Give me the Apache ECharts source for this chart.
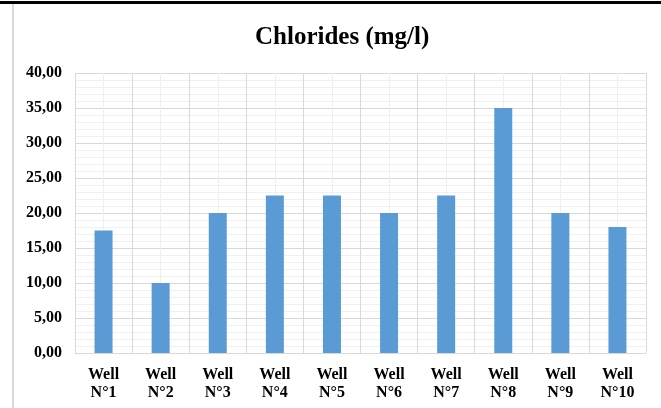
<!DOCTYPE html>
<html>
<head>
<meta charset="utf-8">
<script src="https://cdn.jsdelivr.net/npm/echarts@6/dist/echarts.min.js"></script>
<style>
  html, body { margin: 0; padding: 0; background: #fff; }
  #chart { width: 661px; height: 408px; }
</style>
</head>
<body>
<div id="chart"></div>
<script>
const titleText = 'Chlorides (mg/l)'
const categories = ['Well N°1', 'Well N°2', 'Well N°3', 'Well N°4', 'Well N°5', 'Well N°6', 'Well N°7', 'Well N°8', 'Well N°9', 'Well N°10']
const chlorides = [17.5, 10, 20, 22.5, 22.5, 20, 22.5, 35, 20, 18]
const yTicks = [0, 5, 10, 15, 20, 25, 30, 35, 40]

const serif = '"Liberation Serif", "Times New Roman", serif'
const dom = document.getElementById('chart')
const chart = echarts.init(dom, null, { renderer: 'canvas' })

const option = {
  backgroundColor: '#FFFFFF',
  animation: false,
  title: {
    text: titleText,
    left: 250,
    top: 20,
    textStyle: { fontFamily: serif, fontSize: 25, fontWeight: 'bold', color: '#000' }
  },
  grid: { left: 75, right: 15, top: 73, bottom: 55 },
  // page decoration around the chart box
  graphic: [
    { type: 'rect', shape: { x: 0, y: 1, width: 661, height: 3 }, style: { fill: '#000' } },
    { type: 'rect', shape: { x: 12, y: 4, width: 2, height: 404 }, style: { fill: '#d9d9d9' } }
  ],
  xAxis: [
    {
      type: 'category',
      data: categories,
      axisLine: { lineStyle: { color: '#d9d9d9' } },
      axisTick: { show: false },
      splitLine: { show: false },
      axisLabel: {
        interval: 0,
        margin: 13,
        fontFamily: serif,
        fontSize: 16,
        fontWeight: 'bold',
        color: '#000',
        lineHeight: 18,
        formatter: v => v.replace(' ', '\n')
      }
    },
    {
      // helper axis: boundary lines and lighter lines through bar centres
      type: 'value',
      position: 'bottom',
      min: 0,
      max: categories.length * 2,
      interval: 1,
      axisLine: { show: false },
      axisTick: { show: false },
      axisLabel: { show: false },
      splitLine: { show: true, lineStyle: { color: ['#d9d9d9', '#efefef'], width: 1 } }
    }
  ],
  yAxis: {
    type: 'value',
    min: yTicks[0],
    max: yTicks[yTicks.length - 1],
    interval: 5,
    axisLine: { show: false },
    axisTick: { show: false },
    axisLabel: {
      margin: 13,
      fontFamily: serif,
      fontSize: 16,
      fontWeight: 'bold',
      color: '#000',
      formatter: v => v.toFixed(2).replace('.', ',')
    },
    splitLine: { show: true, lineStyle: { color: '#d9d9d9' } },
    minorTick: { show: false, splitNumber: 5 },
    minorSplitLine: { show: true, lineStyle: { color: '#f0f0f0' } }
  },
  series: [
    {
      name: titleText,
      type: 'bar',
      xAxisIndex: 0,
      barWidth: 18,
      itemStyle: { color: '#5B9BD5' },
      data: chlorides
    }
  ]
}

chart.setOption(option)
window.addEventListener('resize', () => chart.resize())
</script>
</body>
</html>
